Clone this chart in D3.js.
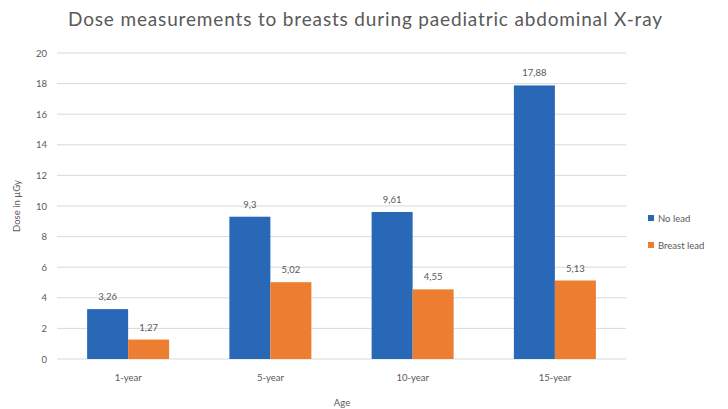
<!DOCTYPE html>
<html>
<head>
<meta charset="utf-8">
<script src="https://cdn.jsdelivr.net/npm/d3@7"></script>
<style>
  html, body { margin: 0; padding: 0; background: #fff; }
  svg { display: block; font-family: Lato, "Open Sans", sans-serif; }
</style>
</head>
<body>
<svg id="chart" width="728" height="409"></svg>
<script>
// Dose to breasts (µGy) by patient age group
const categories = ["1-year", "5-year", "10-year", "15-year"];
const seriesNames = ["No lead", "Breast lead"];
const noLead = [3.26, 9.3, 9.61, 17.88];
const breastLead = [1.27, 5.02, 4.55, 5.13];
const yTicks = [0, 2, 4, 6, 8, 10, 12, 14, 16, 18, 20];
const colors = ["#2868b6", "#ed7d31"];

const svg = d3.select("#chart");
const plot = { left: 57, right: 626, top: 53, bottom: 359 };

const x = d3.scaleBand().domain(categories).range([plot.left, plot.right]).padding(0);
const y = d3.scaleLinear().domain([0, 20]).range([plot.bottom, plot.top]);
const barW = 41;
const xs = d3.scaleBand().domain(seriesNames)
  .range([x.bandwidth() / 2 - barW, x.bandwidth() / 2 + barW]).padding(0);

const textColor = "#595959";

// Title
svg.append("text")
  .attr("x", 365).attr("y", 26)
  .attr("text-anchor", "middle")
  .attr("font-size", 19)
  .attr("fill", textColor)
  .attr("textLength", 594)
  .attr("lengthAdjust", "spacing")
  .text("Dose measurements to breasts during paediatric abdominal X-ray");

// Gridlines
svg.append("g").selectAll("line").data(yTicks).join("line")
  .attr("x1", plot.left).attr("x2", plot.right)
  .attr("y1", d => y(d)).attr("y2", d => y(d))
  .attr("stroke", "#d9d9d9").attr("stroke-width", 1);

// Y axis labels
const yAxis = svg.append("g")
  .attr("transform", `translate(${plot.left - 10},0)`)
  .call(d3.axisLeft(y).tickValues(yTicks).tickSize(0).tickPadding(0));
yAxis.select(".domain").remove();
yAxis.selectAll("text")
  .attr("font-size", 9.5).attr("fill", textColor)
  .attr("font-family", "Lato, 'Open Sans', sans-serif");

// X axis labels
const xAxis = svg.append("g")
  .attr("transform", `translate(0,${plot.bottom + 15})`)
  .call(d3.axisBottom(x).tickSize(0).tickPadding(0));
xAxis.select(".domain").remove();
xAxis.selectAll("text")
  .attr("font-size", 9.5).attr("fill", textColor)
  .attr("font-family", "Lato, 'Open Sans', sans-serif");

// Axis titles
svg.append("text")
  .attr("transform", `translate(20,${(plot.top + plot.bottom) / 2}) rotate(-90)`)
  .attr("text-anchor", "middle")
  .attr("font-size", 9.5).attr("fill", textColor)
  .text("Dose in µGy");
svg.append("text")
  .attr("x", 342).attr("y", 406)
  .attr("text-anchor", "middle")
  .attr("font-size", 9.5).attr("fill", textColor)
  .text("Age");

// Bars
const rows = categories.map((c, i) => ({
  cat: c,
  vals: [
    { s: seriesNames[0], v: noLead[i] },
    { s: seriesNames[1], v: breastLead[i] }
  ]
}));

const groups = svg.append("g").selectAll("g").data(rows).join("g")
  .attr("transform", d => `translate(${x(d.cat)},0)`);

groups.selectAll("rect").data(d => d.vals).join("rect")
  .attr("x", d => xs(d.s))
  .attr("width", xs.bandwidth())
  .attr("y", d => y(d.v))
  .attr("height", d => y(0) - y(d.v))
  .attr("fill", (d, i) => colors[i]);

groups.selectAll("text.val").data(d => d.vals).join("text")
  .attr("class", "val")
  .attr("x", d => xs(d.s) + xs.bandwidth() / 2)
  .attr("y", d => y(d.v) - 9)
  .attr("text-anchor", "middle")
  .attr("font-size", 9.5).attr("fill", textColor)
  .text(d => String(d.v).replace(".", ","));

// Legend
const legend = svg.append("g").selectAll("g").data(seriesNames).join("g")
  .attr("transform", (d, i) => `translate(648,${218 + i * 27})`);
legend.append("rect")
  .attr("x", 0).attr("y", -3).attr("width", 6).attr("height", 6)
  .attr("fill", (d, i) => colors[i]);
legend.append("text")
  .attr("x", 10).attr("y", 3.5)
  .attr("font-size", 9.5).attr("fill", textColor)
  .text(d => d);
</script>
</body>
</html>
